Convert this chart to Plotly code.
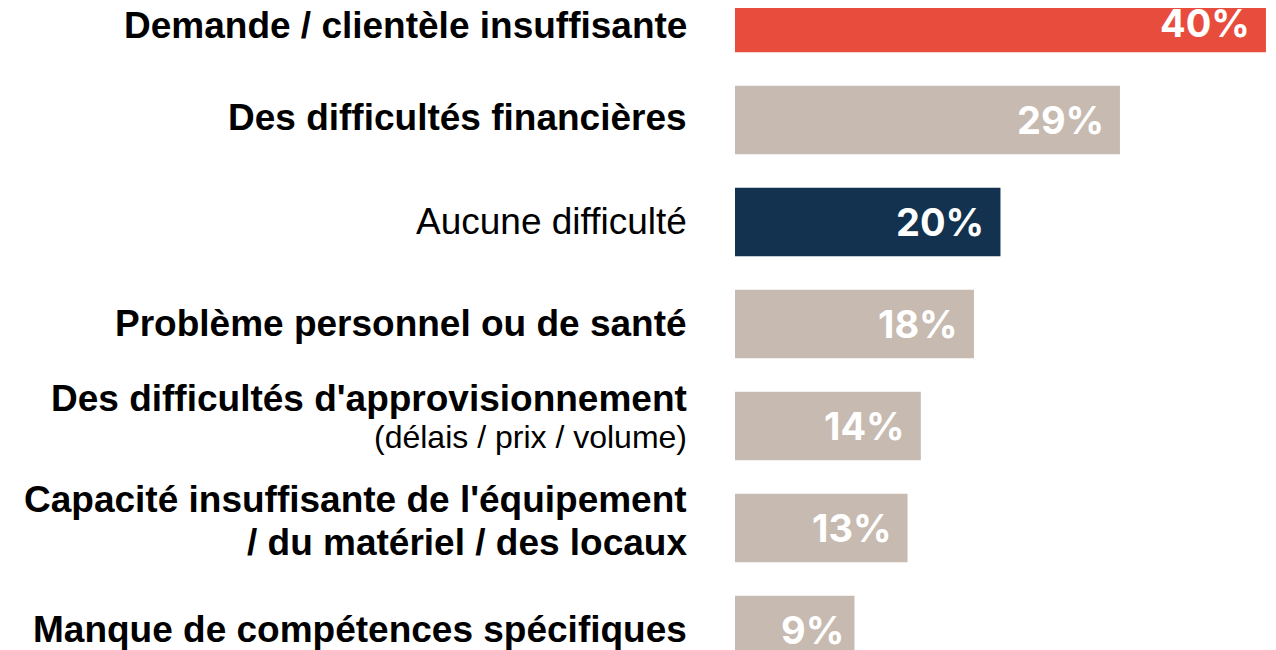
import plotly.graph_objects as go

# ---- data ----
categories = [
    "Demande / clientèle insuffisante",
    "Des difficultés financières",
    "Aucune difficulté",
    "Problème personnel ou de santé",
    "Des difficultés d'approvisionnement",
    "Capacité insuffisante de l'équipement<br>/ du matériel / des locaux",
    "Manque de compétences spécifiques",
]
subtitles = ["", "", "", "", "(délais / prix / volume)", "", ""]
values = [40, 29, 20, 18, 14, 13, 9]

# ---- styles ----
bold_flags = [True, True, False, True, True, True, True]
colors = ["#E84C3D", "#C7BAB0", "#12324F", "#C7BAB0", "#C7BAB0", "#C7BAB0", "#C7BAB0"]
# vertical pixel offsets (downwards) of each text line relative to bar centre
line_offsets = [[7], [-3], [-1], [-1], [-28, 11], [-29, 14], [-1]]
value_offsets = [5, 0, 0, 0, 0, 0, 0]
value_pads = [14, 14, 14, 14, 14, 14, 8]

positions = list(range(len(categories)))

fig = go.Figure()
fig.add_trace(go.Bar(
    x=values,
    y=positions,
    orientation="h",
    width=0.67,
    marker=dict(color=colors, line=dict(width=0)),
    hoverinfo="skip",
))

# value labels inside bar ends
for i, v in enumerate(values):
    fig.add_annotation(
        x=v, xref="x", xanchor="right", xshift=-value_pads[i],
        y=i, yref="y", yanchor="middle", yshift=-value_offsets[i],
        text=f"{v}%", showarrow=False,
        font=dict(family="Inter, Open Sans, sans-serif", size=38, color="white", weight=700),
    )

label_font = "Liberation Sans, Arial, sans-serif"
for i, (cat, sub, b) in enumerate(zip(categories, subtitles, bold_flags)):
    lines = [(f"<b>{l}</b>" if b else l, 37) for l in cat.split("<br>")]
    if sub:
        lines.append((sub, 32))
    for (txt, size), off in zip(lines, line_offsets[i]):
        fig.add_annotation(
            x=0, xref="paper", xanchor="right", xshift=-46,
            y=i, yref="y", yanchor="middle", yshift=-off,
            text=txt, showarrow=False, align="right",
            font=dict(family=label_font, size=size, color="black"),
        )

fig.update_layout(
    width=1276, height=650,
    margin=dict(l=727, r=0, t=0, b=0),
    plot_bgcolor="white", paper_bgcolor="white",
    showlegend=False,
    xaxis=dict(range=[0, 41.36], visible=False, fixedrange=True),
    yaxis=dict(range=[6.2745, -0.098], visible=False, fixedrange=True),
)

fig.write_html("out.html")
